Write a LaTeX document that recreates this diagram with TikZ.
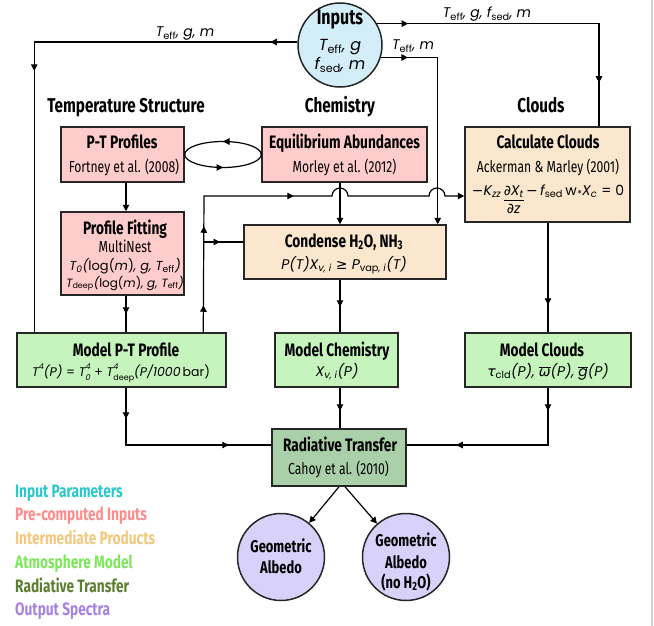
\documentclass[tikz,border=0pt]{standalone}
\usepackage{fontspec}
\setmainfont{Fira Sans}
\usetikzlibrary{arrows.meta,decorations.markings,calc}
\newfontfamily\hd[FakeStretch=0.76]{Fira Sans}
\newfontfamily\mf{Poppins}
\newfontfamily\sy{DejaVu Sans}
\newcommand\sbt[1]{\textsubscript{\upshape #1}}
\newcommand\sbi[1]{\textsubscript{#1}}
\newcommand\scr[1]{{\fontsize{8}{8}\selectfont #1}}
\newcommand\stk[2]{\rlap{\raisebox{6.5pt}{\scr{#1}}}\raisebox{-4pt}{\scr{#2}}}
\definecolor{cIn}{HTML}{D3EEF8}
\definecolor{cPink}{HTML}{FFCCCC}
\definecolor{cTan}{HTML}{FBE7CE}
\definecolor{cGreen}{HTML}{C6F4BD}
\definecolor{cRT}{HTML}{A9D0A8}
\definecolor{cPur}{HTML}{D8D1F9}
\definecolor{lIn}{HTML}{2CC7C9}
\definecolor{lPink}{HTML}{FF8C8C}
\definecolor{lTan}{HTML}{F2C87E}
\definecolor{lGreen}{HTML}{7DE65B}
\definecolor{lRT}{HTML}{5C7E31}
\definecolor{lPur}{HTML}{A682E2}
\definecolor{edge}{HTML}{262626}
\tikzset{
  tri/.tip={Triangle[width=6.5pt,length=6.5pt]},
  conn/.style={draw=black, line width=1.2pt},
  am/.style={postaction={decorate,decoration={markings,mark=at position #1 with {\arrow{tri}}}}},
  box/.style={draw=edge, line width=1.5pt, rectangle, inner sep=0pt},
  pinkbox/.style={box, fill=cPink},
  tanbox/.style={box, fill=cTan},
  greenbox/.style={box, fill=cGreen},
  rtbox/.style={box, fill=cRT},
  ball/.style={circle, draw=edge, line width=1.5pt, inner sep=0pt},
  ttl/.style={anchor=base, inner sep=0pt, font=\hd\bfseries\fontsize{18}{18}\selectfont},
  cit/.style={anchor=base, inner sep=0pt, font=\hd\fontsize{16}{16}\selectfont},
  eqn/.style={anchor=base, inner sep=0pt, font=\mf\itshape\fontsize{14}{14}\selectfont},
  hdg/.style={anchor=base, inner sep=0pt, font=\hd\bfseries\fontsize{20}{20}\selectfont},
  leg/.style={anchor=base west, inner sep=0pt, font=\hd\bfseries\fontsize{18}{18}\selectfont},
  ball17/.style={ttl, font=\hd\bfseries\fontsize{17}{17}\selectfont},
}
\begin{document}
\begin{tikzpicture}[x=1pt,y=-1pt]
\useasboundingbox (0,0) rectangle (654,626);
\draw[black!18, line width=1.5pt] (652,0) -- (652,626);

% column coordinates
\coordinate (c1) at (126,0);
\coordinate (c2) at (340,0);
\coordinate (c3) at (548,0);
\coordinate (ry) at (0,445);

% inputs
\node[ball, fill=cIn, minimum size=84pt] (in) at (340,45) {};
\node[ttl, font=\hd\bfseries\fontsize{21}{21}\selectfont] (inT) at (340,25) {Inputs};
\node[eqn, font=\mf\itshape\fontsize{16}{16}\selectfont] (inA) at (340,51) {T\sbt{eff}, g};
\node[eqn, font=\mf\itshape\fontsize{16}{16}\selectfont] (inB) at (340,70) {f\sbt{sed}, m};

% headings
\node[hdg] (h1) at (126,113) {Temperature Structure};
\node[hdg] (h2) at (340,113) {Chemistry};
\node[hdg] (h3) at (541,113) {Clouds};

% boxes
\node[pinkbox, minimum width=123pt, minimum height=55pt] (ptp) at (122.5,154.5) {};
\node[ttl] at (122,149) {P-T Profiles};
\node[cit] at (124,172) {Fortney et al. (2008)};

\node[pinkbox, minimum width=165pt, minimum height=55pt] (eq) at (344.5,154.5) {};
\node[ttl] at (344.5,149) {Equilibrium Abundances};
\node[cit] at (344.5,172) {Morley et al. (2012)};

\node[tanbox, minimum width=165pt, minimum height=95pt] (calc) at (547.5,174.5) {};
\node[ttl] at (548,149) {Calculate Clouds};
\node[cit] at (548,172) {Ackerman \& Marley (2001)};
\node[eqn] at (548,195) {{\sy −}K\sbi{zz}\,$\begin{array}[t]{@{}c@{}}\mbox{{\sy ∂}X\sbi{t}}\\[1pt]\hline\rule{0pt}{13pt}\mbox{{\sy ∂}z}\end{array}$\,{\sy −}\,f\sbt{sed}\,{\upshape w}\sbi{*}X\sbi{c} {\upshape = 0}};

\node[pinkbox, minimum width=123pt, minimum height=83pt] (fit) at (122.5,253.5) {};
\node[ttl] at (125,234) {Profile Fitting};
\node[cit] at (125,252) {MultiNest};
\node[eqn, font=\mf\itshape\fontsize{13}{13}\selectfont] at (125,270) {T\sbi{0}({\upshape log(}m{\upshape)}, g, T\sbt{eff})};
\node[eqn, font=\mf\itshape\fontsize{12}{12}\selectfont] at (125,287) {T\sbt{deep}({\upshape log(}m{\upshape)}, g, T\sbt{eff})};

\node[tanbox, minimum width=202pt, minimum height=54pt] (cond) at (345,252) {};
\node[ttl] at (344,247) {Condense H\textsubscript{2}O, NH\textsubscript{3}};
\node[eqn] at (344,269) {P(T)X\sbi{v, i} {\sy ≥} P\textsubscript{\upshape vap\itshape, i}(T)};

\node[greenbox, minimum width=209pt, minimum height=54pt] (mpt) at (121.5,360) {};
\node[ttl] at (126,356) {Model P-T Profile};
\node[eqn, font=\mf\itshape\fontsize{12.5}{12.5}\selectfont] at (121,376) {T\raisebox{6.5pt}{\scr{4}}(P) {\upshape =} T\stk{4}{0} {\upshape +} T\stk{4}{\upshape deep}(P/1000\,{\upshape bar)}};

\node[greenbox, minimum width=123pt, minimum height=54pt] (mchem) at (336.5,360) {};
\node[ttl] at (337,356) {Model Chemistry};
\node[eqn] at (337,376) {X\sbi{v, i}(P)};

\node[greenbox, minimum width=166pt, minimum height=54pt] (mcl) at (548,360) {};
\node[ttl] at (542,356) {Model Clouds};
\node[eqn] at (548,376) {{\sy τ}\sbt{cld}(P), $\overline{\mbox{\sy ω}}$(P), $\overline{\mbox{g}}$(P)};

\node[rtbox, minimum width=134pt, minimum height=57pt] (rt) at (339,457.5) {};
\node[ttl] at (340,451) {Radiative Transfer};
\node[cit] at (338.5,474) {Cahoy et al. (2010)};

\node[ball, fill=cPur, minimum size=87pt] (ga1) at (281,557) {};
\node[ball17] at (281,552) {Geometric};
\node[ball17] at (281,573) {Albedo};
\node[ball, fill=cPur, minimum size=87pt] (ga2) at (406,557) {};
\node[ball17] at (406,546) {Geometric};
\node[ball17] at (406,568) {Albedo};
\node[ball17] at (406,588) {(no H\textsubscript{2}O)};

% legend
\node[leg, text=lIn] at (15,497) {Input Parameters};
\node[leg, text=lPink] at (15,520) {Pre-computed Inputs};
\node[leg, text=lTan] at (15,544) {Intermediate Products};
\node[leg, text=lGreen] at (15,568) {Atmosphere Model};
\node[leg, text=lRT] at (15,592) {Radiative Transfer};
\node[leg, text=lPur] at (15,615) {Output Spectra};

% top labels
\node[eqn] (la) at (185,37) {T\sbt{eff}, g, m};
\node[eqn] (lb) at (487,18) {T\sbt{eff}, g, f\sbt{sed}, m};
\node[eqn] (lc) at (413,50) {T\sbt{eff}, m};

% connectors
\draw[conn, am=27pt, am=292pt] (in.176) -| ($(mpt.north west)+(18,0)$);
\draw[conn, am=31pt, am=281pt] (in.30) -| ($(calc.north)+(51.5,0)$);
\draw[conn, am=27pt, -{tri}] (in.-17) -| ($(cond.north east)+(-9,0)$);

\draw[conn, am=0.5] (eq.west) arc[start angle=0, end angle=180, x radius=38.25pt, y radius=13pt];
\draw[conn, am=0.5] (ptp.east) arc[start angle=180, end angle=360, x radius=38.25pt, y radius=13pt];

\draw[conn, -{tri}] (ptp.south -| c1) -- (fit.north -| c1);
\draw[conn, am=18pt] (fit.south -| c1) -- (mpt.north -| c1);

\draw[conn, am=27pt, am=106pt, am=226pt, -{tri}] ($(mpt.north west)+(187,0)$) -- (204,196) -- (332,196)
   arc[start angle=180, end angle=0, radius=8pt] -- (429,196)
   arc[start angle=180, end angle=0, radius=8pt] -- (calc.west |- 0,196);
\coordinate (br) at (204,242);
\draw[conn, am=16pt] (br) -- (cond.west |- br);

\draw[conn, -{tri}] (eq.south -| c2) -- (cond.north -| c2);
\draw[conn, am=27pt] (cond.south -| c2) -- (mchem.north -| c2);
\draw[conn, am=82pt] (calc.south -| c3) -- (mcl.north -| c3);

\draw[conn, am=31pt, am=160pt] (mpt.south -| c1) |- (rt.west |- ry);
\draw[conn, am=23pt] (mchem.south -| c2) -- (rt.north -| c2);
\draw[conn, am=23pt, am=149pt] (mcl.south -| c3) |- (rt.east |- ry);

\draw[conn, -{tri}] (rt.south) -- (ga1);
\draw[conn, -{tri}] ($(rt.south)+(6,0)$) -- (ga2);
\end{tikzpicture}
\end{document}
